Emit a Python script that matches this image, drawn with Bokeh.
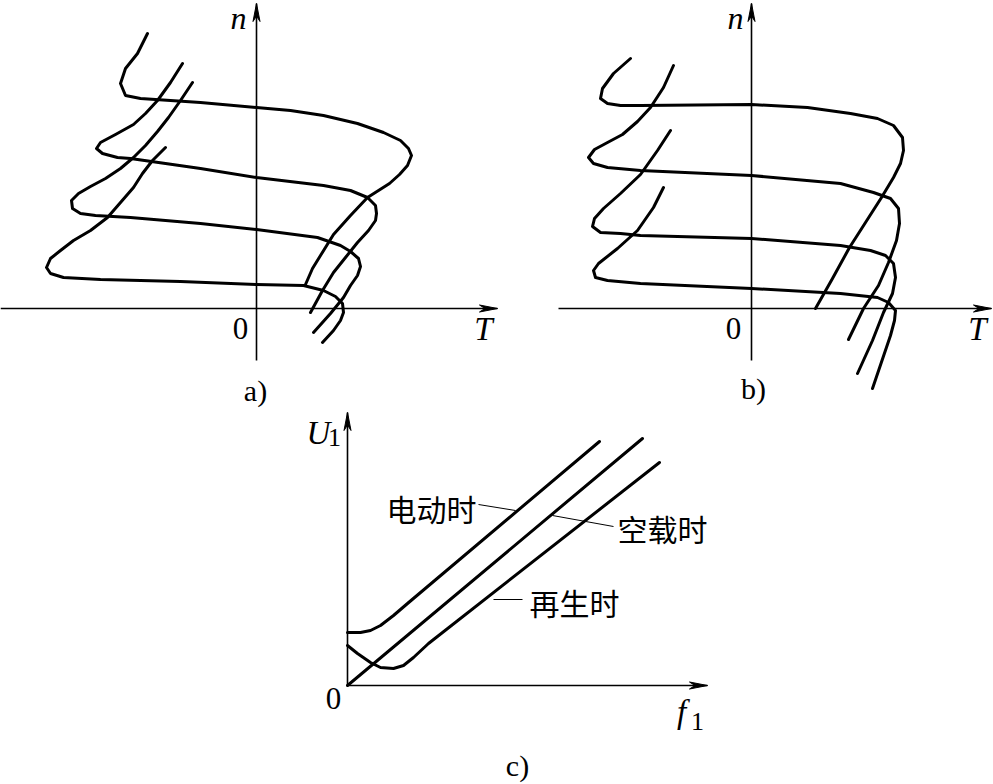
from bokeh.plotting import figure
from bokeh.models import Range1d, Spacer
from bokeh.layouts import column, row
from bokeh.embed import file_html
from bokeh.resources import INLINE
from bokeh.core.properties import value

# ---------------- Panel a): T (torque) vs n (speed) ----------------
a1_T = [-109, -119, -131, -136, -131, -116, -56, 0, 34, 67, 101, 127, 144, 152, 155, 151, 143, 133, 122, 111, 94, 77, 64, 56, 49]
a1_n = [275, 255, 240, 225, 213, 210, 206, 201, 198, 193, 185, 176, 168, 160, 153, 143, 134, 125, 118, 111, 93, 74, 53, 40, 24]
a2_T = [-74, -86, -99, -111, -123, -141, -156, -160, -154, -139, -126, -56, 0, 67, 94, 111, 119, 120, 119, 112, 101, 89, 77, 66, 54]
a2_n = [245, 226, 208, 195, 184, 174, 166, 160, 155, 151, 150, 140, 131, 123, 118, 111, 103, 95, 88, 78, 66, 51, 36, 18, -4]
a3_T = [-64, -76, -88, -99, -111, -123, -136, -151, -166, -178, -185, -184, -176, -161, -126, -56, 0, 61, 84, 94, 102, 104, 101, 94, 87, 74, 57]
a3_n = [226, 208, 191, 177, 163, 151, 140, 130, 122, 115, 108, 100, 95, 93, 91, 85, 79, 71, 63, 57, 50, 42, 33, 23, 11, -5, -24]
a4_T = [-91, -104, -114, -123, -136, -149, -166, -183, -196, -206, -210, -206, -193, -156, -76, 0, 47, 67, 79, 86, 87, 84, 77, 66]
a4_n = [161, 148, 135, 121, 106, 91, 78, 68, 58, 50, 41, 35, 31, 29, 27, 24, 23, 18, 12, 5, -4, -12, -22, -34]

# ---------------- Panel b): T (torque) vs n (speed) ----------------
b1_T = [-121, -138, -149, -151, -144, -131, -111, 0, 56, 99, 126, 142, 151, 152, 149, 142, 130, 98, 81, 64]
b1_n = [250, 235, 220, 210, 205, 203, 203, 204, 201, 195, 190, 183, 171, 158, 145, 131, 111, 61, 30, 0]
b2_T = [-78, -88, -101, -114, -129, -144, -157, -163, -158, -144, -111, 0, 89, 122, 139, 147, 148, 145, 137, 127, 112, 97]
b2_n = [243, 221, 201, 187, 174, 166, 159, 151, 145, 141, 138, 133, 125, 116, 110, 100, 85, 68, 46, 23, 0, -31]
b3_T = [-81, -94, -111, -131, -148, -157, -159, -151, -131, -111, 0, 89, 119, 134, 142, 144, 141, 132, 121, 106]
b3_n = [178, 158, 134, 115, 100, 90, 82, 76, 75, 73, 70, 63, 58, 53, 45, 31, 15, -4, -32, -65]
b4_T = [-88, -98, -114, -134, -153, -158, -156, -144, -111, 0, 89, 126, 137, 144, 143, 139, 121]
b4_n = [121, 101, 78, 60, 45, 38, 31, 28, 25, 20, 15, 11, 6, -2, -12, -27, -80]

# ---------------- Panel c): f1 vs U1 ----------------
c_motor_f = [0, 13, 23, 33, 46, 60, 252]
c_motor_U = [53, 53, 55, 60, 70, 82, 244]
c_noload_f = [0, 295]
c_noload_U = [0, 247]
c_regen_f = [0, 10, 23, 33, 46, 56, 66, 81, 312]
c_regen_U = [40, 32, 23, 18, 17, 20, 28, 42, 223]
c_labels = ["电动时", "空载时", "再生时"]
c_label_f = [84, 315, 227]
c_label_U = [178, 158, 84]
c_leader_f = [[131, 168], [205, 266], [146, 175]]
c_leader_U = [[181, 175], [170, 159], [86, 86]]

SERIF = value("Liberation Serif")
CJK = value("Noto Sans CJK SC")
CURVE_W = 3
AXIS_W = 1.6


def make_fig(w, h, xr, yr):
    p = figure(width=w, height=h, x_range=Range1d(*xr), y_range=Range1d(*yr),
               output_backend="svg", toolbar_location=None,
               x_axis_location=None, y_axis_location=None, min_border=0)
    p.grid.visible = False
    p.outline_line_color = None
    return p


def arrow(p, x0, y0, x1, y1, L=18, hw=3.5):
    p.line([x0, x1], [y0, y1], line_color="black", line_width=AXIS_W)
    dx, dy = x1 - x0, y1 - y0
    n = (dx * dx + dy * dy) ** 0.5
    ux, uy = dx / n, dy / n
    px, py = -uy, ux
    xs = [x1, x1 - L * ux + hw * px, x1 - 0.7 * L * ux, x1 - L * ux - hw * px]
    ys = [y1, y1 - L * uy + hw * py, y1 - 0.7 * L * uy, y1 - L * uy - hw * py]
    p.patch(xs, ys, fill_color="black", line_color="black", line_width=1)


def txt(p, x, y, s, size, font=SERIF, style="normal", align="center"):
    p.text(x=[x], y=[y], text=[s], text_font=font, text_font_size=size,
           text_font_style=style, text_align=align, text_baseline="middle",
           text_color="black")


# Panel a
fa = make_fig(550, 410, (-256, 294), (-102, 308))
arrow(fa, -256, 0, 241, 0)
arrow(fa, 0, -52, 0, 305)
for T, n in [(a1_T, a1_n), (a2_T, a2_n), (a3_T, a3_n), (a4_T, a4_n)]:
    fa.line(T, n, line_color="black", line_width=CURVE_W, line_join="round", line_cap="round")
txt(fa, -18, 291, "n", "32px", style="italic")
txt(fa, 227, -20, "T", "33px", style="italic")
txt(fa, -16, -20, "0", "31px")
txt(fa, -1, -82, "a)", "30px")

# Panel b
fb = make_fig(443, 410, (-201, 242), (-102, 308))
arrow(fb, -193, 0, 240, 0)
arrow(fb, 0, -52, 0, 305)
for T, n in [(b1_T, b1_n), (b2_T, b2_n), (b3_T, b3_n), (b4_T, b4_n)]:
    fb.line(T, n, line_color="black", line_width=CURVE_W, line_join="round", line_cap="round")
txt(fb, -16, 291, "n", "32px", style="italic")
txt(fb, 226, -20, "T", "33px", style="italic")
txt(fb, -18, -20, "0", "31px")
txt(fb, 2, -80, "b)", "30px")

# Panel c
fc = make_fig(440, 374, (-57, 383), (-99, 275))
arrow(fc, 0, 0, 360, 0)
arrow(fc, 0, 0, 0, 273)
for f, U in [(c_motor_f, c_motor_U), (c_noload_f, c_noload_U), (c_regen_f, c_regen_U)]:
    fc.line(f, U, line_color="black", line_width=CURVE_W, line_join="round", line_cap="round")
for lf, lu in zip(c_leader_f, c_leader_U):
    fc.line(lf, lu, line_color="black", line_width=1)
fc.text(x=c_label_f, y=c_label_U, text=c_labels, text_font=CJK, text_font_size="30px",
        text_align="center", text_baseline="middle", text_color="black")
txt(fc, -29, 253, "U", "33px", style="italic")
txt(fc, -13, 248, "1", "26px")
txt(fc, -14, -13, "0", "31px")
txt(fc, 334, -26, "f", "33px", style="italic")
txt(fc, 350, -36, "1", "26px")
txt(fc, 170, -80, "c)", "30px")

layout = column(row(fa, fb), row(Spacer(width=290, height=374), fc))
open("out.html", "w").write(file_html(layout, INLINE))
